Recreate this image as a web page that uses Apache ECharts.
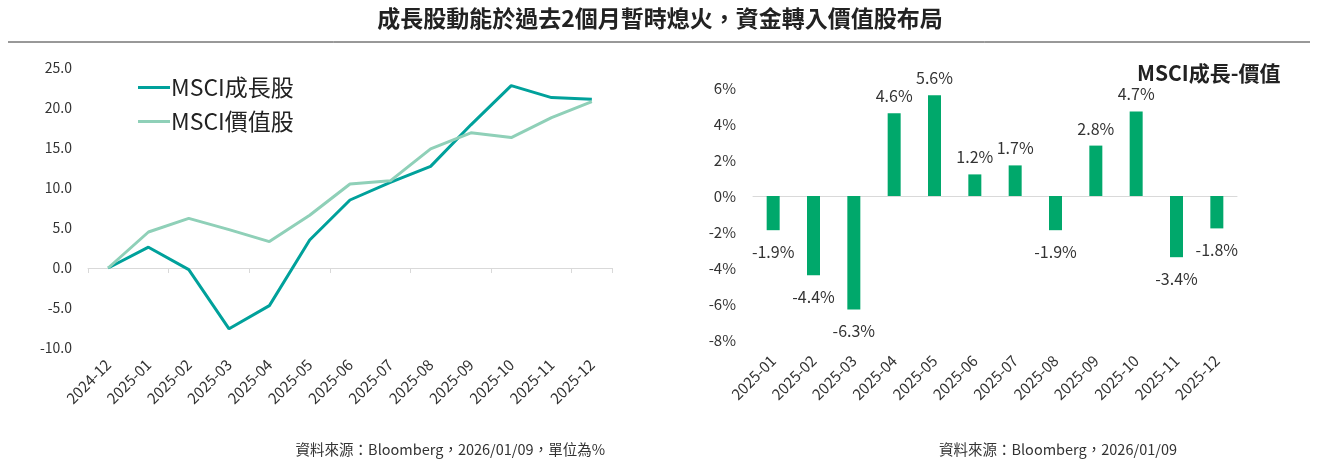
<!doctype html>
<html lang="zh-Hant">
<head>
  <meta charset="UTF-8">
  <title>成長股動能於過去2個月暫時熄火，資金轉入價值股布局</title>
  <script src="https://cdn.jsdelivr.net/npm/echarts@6/dist/echarts.min.js"></script>
  <style>
    html, body { margin: 0; padding: 0; background: #fff; }
    #main { width: 1320px; height: 463px; }
  </style>
</head>
<body>
<div id="main"></div>
<script>
  // 左圖：累積報酬（%）
  var lineMonths = ['2024-12', '2025-01', '2025-02', '2025-03', '2025-04', '2025-05', '2025-06',
    '2025-07', '2025-08', '2025-09', '2025-10', '2025-11', '2025-12'];
  var growthData = [0, 2.6, -0.2, -7.6, -4.7, 3.5, 8.5, 10.7, 12.7, 17.9, 22.8, 21.3, 21.1];
  var valueData = [0, 4.5, 6.2, 4.8, 3.3, 6.6, 10.5, 10.9, 14.9, 16.9, 16.3, 18.8, 20.8];

  // 右圖：成長-價值 月差（%）
  var barMonths = ['2025-01', '2025-02', '2025-03', '2025-04', '2025-05', '2025-06',
    '2025-07', '2025-08', '2025-09', '2025-10', '2025-11', '2025-12'];
  var spreadData = [-1.9, -4.4, -6.3, 4.6, 5.6, 1.2, 1.7, -1.9, 2.8, 4.7, -3.4, -1.8];

  var FONT = '"Noto Sans CJK TC", "Noto Sans", sans-serif';
  var chart = echarts.init(document.getElementById('main'));

  var option = {
    textStyle: { fontFamily: FONT },
    animation: false,
    graphic: [
      { type: 'text', left: 'center', top: 7,
        style: { text: '成長股動能於過去2個月暫時熄火，資金轉入價值股布局', font: 'bold 23px ' + FONT, fill: '#222' } },
      { type: 'line', shape: { x1: 8, y1: 42, x2: 1310, y2: 42 }, style: { stroke: '#333', lineWidth: 1 } },
      { type: 'text', left: 1137, top: 63,
        style: { text: 'MSCI成長-價值', font: 'bold 21px ' + FONT, fill: '#222' } },
      { type: 'text', right: 715, top: 442,
        style: { text: '資料來源：Bloomberg，2026/01/09，單位為%', font: '14.5px ' + FONT, fill: '#333' } },
      { type: 'text', right: 143, top: 442,
        style: { text: '資料來源：Bloomberg，2026/01/09', font: '14.5px ' + FONT, fill: '#333' } }
    ],
    legend: {
      orient: 'vertical', left: 133, top: 71, itemGap: 11,
      itemWidth: 32, itemHeight: 3, icon: 'rect',
      textStyle: { fontSize: 23, color: '#222', fontFamily: FONT, padding: [0, 0, 0, -4] },
      data: ['MSCI成長股', 'MSCI價值股']
    },
    grid: [
      { left: 88, top: 68, width: 524, height: 280 },
      { left: 753, top: 88, width: 484, height: 252 }
    ],
    xAxis: [
      { type: 'category', gridIndex: 0, data: lineMonths, position: 'bottom',
        axisLine: { show: false, onZero: false }, axisTick: { show: false },
        axisLabel: { rotate: 45, fontSize: 15, color: '#333', margin: 14, interval: 0 } },
      { type: 'category', gridIndex: 0, data: lineMonths, position: 'bottom',
        axisLine: { onZero: true, lineStyle: { color: '#d9d9d9' } },
        axisTick: { show: true, length: 5, lineStyle: { color: '#d9d9d9' } },
        axisLabel: { show: false } },
      { type: 'category', gridIndex: 1, data: barMonths, position: 'bottom',
        axisLine: { show: false, onZero: false }, axisTick: { show: false },
        axisLabel: { rotate: 45, fontSize: 15, color: '#333', margin: 18, interval: 0 } },
      { type: 'category', gridIndex: 1, data: barMonths, position: 'bottom',
        axisLine: { onZero: true, lineStyle: { color: '#d9d9d9' } },
        axisTick: { show: false }, axisLabel: { show: false } }
    ],
    yAxis: [
      { type: 'value', gridIndex: 0, min: -10, max: 25, interval: 5,
        axisLine: { show: false }, axisTick: { show: false }, splitLine: { show: false },
        axisLabel: { fontSize: 14, color: '#333', margin: 16,
          formatter: function (v) { return v.toFixed(1); } } },
      { type: 'value', gridIndex: 1, min: -8, max: 6, interval: 2,
        axisLine: { show: false }, axisTick: { show: false }, splitLine: { show: false },
        axisLabel: { fontSize: 15, color: '#333', margin: 17, formatter: '{value}%' } }
    ],
    series: [
      { name: 'MSCI成長股', type: 'line', xAxisIndex: 0, yAxisIndex: 0, data: growthData,
        symbol: 'none', lineStyle: { color: '#00a19b', width: 3 }, itemStyle: { color: '#00a19b' } },
      { name: 'MSCI價值股', type: 'line', xAxisIndex: 0, yAxisIndex: 0, data: valueData,
        symbol: 'none', lineStyle: { color: '#8fd0b8', width: 3 }, itemStyle: { color: '#8fd0b8' } },
      { name: 'MSCI成長-價值', type: 'bar', xAxisIndex: 2, yAxisIndex: 1, barWidth: 13,
        itemStyle: { color: '#00a86b' },
        data: spreadData.map(function (v) {
          return {
            value: v,
            label: {
              show: true,
              position: v < 0 ? 'bottom' : 'top',
              distance: v < 0 ? 14 : 9,
              fontSize: 16, color: '#333',
              formatter: function (p) { return p.value.toFixed(1) + '%'; }
            }
          };
        })
      }
    ]
  };

  chart.setOption(option);
</script>
</body>
</html>
